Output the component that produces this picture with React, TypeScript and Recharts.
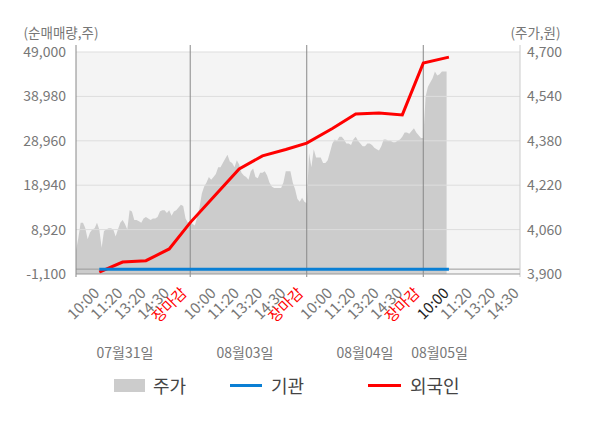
import {
  Area,
  CartesianGrid,
  ComposedChart,
  Label,
  Legend,
  Line,
  ReferenceLine,
  XAxis,
  YAxis,
} from "recharts";

const FONT = '"Noto Sans CJK KR", "Noto Sans", sans-serif';

// 주가(원): 하루 50칸 표본
const priceDay1 = [
  3985, 4030, 4085, 4085, 4065, 4025, 4050, 4060, 4065, 4085,
  4060, 3995, 4055, 4060, 4065, 4065, 4060, 4035, 4060, 4085,
  4095, 4080, 4060, 4130, 4125, 4095, 4095, 4090, 4085, 4100,
  4105, 4100, 4095, 4100, 4100, 4105, 4125, 4130, 4130, 4120,
  4130, 4110, 4125, 4130, 4140, 4150, 4145, 4100, 4085, 4090,
];
const priceDay2 = [
  4080, 4075, 4105, 4140, 4190, 4215, 4230, 4250, 4240, 4250,
  4260, 4285, 4285, 4300, 4315, 4330, 4305, 4300, 4285, 4310,
  4295, 4265, 4255, 4250, 4240, 4270, 4280, 4250, 4245, 4265,
  4265, 4270, 4255, 4230, 4215, 4210, 4210, 4210, 4210, 4230,
  4270, 4270, 4270, 4230, 4205, 4170, 4160, 4175, 4160, 4155,
];
const priceDay3 = [
  4335, 4285, 4350, 4320, 4320, 4320, 4300, 4300, 4310, 4340,
  4370, 4385, 4380, 4395, 4395, 4385, 4370, 4370, 4365, 4385,
  4395, 4380, 4370, 4360, 4360, 4370, 4370, 4365, 4355, 4350,
  4345, 4360, 4385, 4385, 4380, 4380, 4375, 4375, 4380, 4385,
  4395, 4410, 4410, 4405, 4415, 4425, 4410, 4400, 4390, 4390,
];
const priceDay4 = [4540, 4575, 4590, 4605, 4630, 4615, 4620, 4630, 4630, 4630];

// 순매매량(주) 누적
const flowSlots = [11, 21, 31, 41, 50, 61, 71, 81, 91, 100, 111, 121, 131, 141, 150, 161];
const foreignNet = [
  -650, 1600, 1900, 4550, 10500, 16850, 22600, 25550, 27000, 28450,
  31750, 35000, 35250, 34800, 46500, 47850,
];
const institutionNet = [0, 0, 0, 0, 0, 0, 0, 0, 0, 0, 0, 0, 0, 0, 0, 0];

const leftTicks = [-1100, 8920, 18940, 28960, 38980, 49000];
const rightTicks = [3900, 4060, 4220, 4380, 4540, 4700];

const sessionLabels = ["10:00", "11:20", "13:20", "14:30", "장마감"];
const sessionSlots = [11, 21, 31, 41, 48.5];
const dayStarts = [0, 50, 100, 150];
const closeSlots = [50, 100, 150];
const dayLabels = ["07월31일", "08월03일", "08월04일", "08월05일"];
const dayLabelSlots = [22, 73.5, 125, 157];

const X_MIN = 1;
const X_MAX = 191.5;

const prices = [...priceDay1, ...priceDay2, ...priceDay3, ...priceDay4];
const rows = new Map<number, any>();
prices.forEach((p, i) => rows.set(i + 1, { slot: i + 1, price: p }));
flowSlots.forEach((s, i) => {
  const r = rows.get(s) ?? { slot: s };
  r.foreign = foreignNet[i];
  r.inst = institutionNet[i];
  rows.set(s, r);
});
const data = [...rows.values()].sort((a, b) => a.slot - b.slot);

const timeTicks: { value: number; label: string; current: boolean }[] = [];
dayStarts.forEach((start, d) =>
  sessionSlots.forEach((s, k) => {
    const v = start + s;
    if (v <= X_MAX) timeTicks.push({ value: v, label: sessionLabels[k], current: d === 3 && k === 0 });
  })
);

function TimeTick(props: any) {
  const { x, y, payload } = props;
  const t = timeTicks.find((tt) => Math.abs(tt.value - payload.value) < 1e-6);
  if (!t) return null;
  const color = t.label === "장마감" ? "#ff0000" : t.current ? "#222222" : "#777777";
  const ax = x + 1;
  const ay = y + 12;
  return (
    <text
      x={ax}
      y={ay}
      textAnchor="end"
      transform={`rotate(-45 ${ax} ${ay})`}
      fill={color}
      fontSize={15}
      fontFamily={FONT}
    >
      {t.label}
    </text>
  );
}

function DateTick(props: any) {
  const { x, y, payload } = props;
  const i = dayLabelSlots.indexOf(payload.value);
  return (
    <text x={x} y={y + 18} textAnchor="middle" fill="#777777" fontSize={14} fontFamily={FONT}>
      {dayLabels[i]}
    </text>
  );
}

const extended = (up: number, down: number) => (props: any) => {
  const top = Math.min(props.y1, props.y2) - up;
  const bottom = Math.max(props.y1, props.y2) + down;
  return <line x1={props.x1} x2={props.x2} y1={top} y2={bottom} stroke={props.stroke} strokeWidth={1} />;
};

function LegendBox() {
  const text = { position: "absolute" as const, top: 8, fontSize: 18, lineHeight: "24px", color: "#444", fontFamily: FONT };
  return (
    <div style={{ position: "relative", width: 600, height: 40 }}>
      <div style={{ position: "absolute", left: 114, top: 14, width: 31, height: 13, background: "#cccccc" }} />
      <span style={{ ...text, left: 153 }}>주가</span>
      <div style={{ position: "absolute", left: 230, top: 19, width: 32, height: 3, background: "#0a7fd4" }} />
      <span style={{ ...text, left: 271 }}>기관</span>
      <div style={{ position: "absolute", left: 368, top: 19, width: 33, height: 3, background: "#ff0000" }} />
      <span style={{ ...text, left: 410 }}>외국인</span>
    </div>
  );
}

const tickStyle = { fill: "#777777", fontSize: 14, fontFamily: FONT };

export default function App() {
  return (
    <div style={{ position: "absolute", left: 0, top: 0, width: 600, height: 428, background: "#fff" }}>
      <ComposedChart width={600} height={428} data={data} margin={{ top: 52, right: 0, bottom: 23, left: 0 }}>
        <CartesianGrid xAxisId="a" yAxisId="left" horizontal={false} vertical={false} fill="#f4f4f4" />
        <XAxis
          xAxisId="a"
          dataKey="slot"
          type="number"
          domain={[X_MIN, X_MAX]}
          ticks={timeTicks.map((t) => t.value)}
          interval={0}
          tick={<TimeTick />}
          tickLine={false}
          axisLine={{ stroke: "#999999" }}
          height={58}
          allowDataOverflow
        />
        <XAxis
          xAxisId="b"
          dataKey="slot"
          type="number"
          domain={[X_MIN, X_MAX]}
          ticks={dayLabelSlots}
          interval={0}
          tick={<DateTick />}
          tickLine={false}
          axisLine={false}
          height={33}
          allowDataOverflow
        />
        <YAxis
          yAxisId="left"
          width={76}
          domain={[-1100, 49000]}
          ticks={leftTicks}
          interval={0}
          tick={tickStyle}
          tickFormatter={(v) => v.toLocaleString("en-US")}
          tickLine={false}
          axisLine={false}
          tickSize={6}
          tickMargin={4}
          allowDataOverflow
        >
          <Label
            content={(p: any) => (
              <text x={p.viewBox.x + 61} y={p.viewBox.y - 14} textAnchor="middle" fill="#777777" fontSize={13.5} fontFamily={FONT}>
                (순매매량,주)
              </text>
            )}
          />
        </YAxis>
        <YAxis
          yAxisId="right"
          orientation="right"
          width={80}
          domain={[3900, 4700]}
          ticks={rightTicks}
          interval={0}
          tick={tickStyle}
          tickFormatter={(v) => v.toLocaleString("en-US")}
          tickLine={false}
          axisLine={false}
          tickSize={6}
          tickMargin={1}
          allowDataOverflow
        >
          <Label
            content={(p: any) => (
              <text x={p.viewBox.x + 15.5} y={p.viewBox.y - 14} textAnchor="middle" fill="#777777" fontSize={13.5} fontFamily={FONT}>
                (주가,원)
              </text>
            )}
          />
        </YAxis>
        <Area
          xAxisId="a"
          yAxisId="right"
          dataKey="price"
          fill="#cccccc"
          fillOpacity={1}
          stroke="none"
          isAnimationActive={false}
        />
        {leftTicks.slice(1).map((v) => (
          <ReferenceLine key={v} xAxisId="a" yAxisId="left" y={v} stroke="#dddddd" />
        ))}
        <ReferenceLine xAxisId="a" yAxisId="left" y={0} stroke="#999999" />
        <ReferenceLine xAxisId="a" yAxisId="left" x={X_MIN} stroke="#888888" shape={extended(7, 3)} />
        <ReferenceLine xAxisId="a" yAxisId="left" x={X_MAX} stroke="#cccccc" shape={extended(7, 3)} />
        {closeSlots.map((v) => (
          <ReferenceLine key={v} xAxisId="a" yAxisId="left" x={v} stroke="#888888" shape={extended(7, 3)} />
        ))}
        <Line
          xAxisId="a"
          yAxisId="left"
          dataKey="foreign"
          stroke="#ff0000"
          strokeWidth={3}
          dot={false}
          connectNulls
          isAnimationActive={false}
        />
        <Line
          xAxisId="a"
          yAxisId="left"
          dataKey="inst"
          stroke="#0a7fd4"
          strokeWidth={3}
          dot={false}
          connectNulls
          isAnimationActive={false}
        />
        <Legend verticalAlign="bottom" content={() => <LegendBox />} />
      </ComposedChart>
    </div>
  );
}
